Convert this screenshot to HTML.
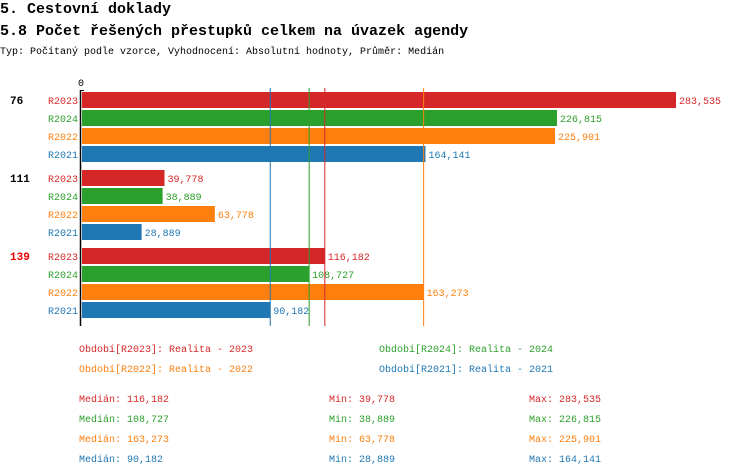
<!DOCTYPE html>
<html><head><meta charset="utf-8"><style>
body{margin:0;background:#fff;width:750px;height:476px;overflow:hidden}
svg{display:block;font-family:"Liberation Mono",monospace}
</style></head><body>
<svg id="c" width="750" height="476">
<text x="0" y="13" font-size="15" font-weight="bold">5. Cestovní doklady</text>
<text x="0" y="35" font-size="15" font-weight="bold">5.8 Počet řešených přestupků celkem na úvazek agendy</text>
<text x="0" y="54" font-size="10">Typ: Počítaný podle vzorce, Vyhodnocení: Absolutní hodnoty, Průměr: Medián</text>
<text x="81" y="86" font-size="10" text-anchor="middle">0</text>
<g id="bars"></g>
<g id="legend"></g>
</svg>
<script>
const groups=["76","111","139"];
const groupColors=["#000","#000","#e00"];
const series=["R2023","R2024","R2022","R2021"];
const seriesColors=["#d62728","#2ca02c","#ff7f0e","#1f77b4"];
const values=[[283535,226815,225901,164141],[39778,38889,63778,28889],[116182,108727,163273,90182]];
const medians=[116182,108727,163273,90182];
const mins=[39778,38889,63778,28889];
const maxs=[283535,226815,225901,164141];
const legendLabels=["Období[R2023]: Realita - 2023","Období[R2024]: Realita - 2024","Období[R2022]: Realita - 2022","Období[R2021]: Realita - 2021"];
const NS="http://www.w3.org/2000/svg";
const svg=document.getElementById('c'),gb=document.getElementById('bars'),gl=document.getElementById('legend');
const x0=81,maxV=283535,maxW=595;
const xs=v=>x0+v/maxV*maxW;
const fmt=v=>v.toLocaleString('en-US');
function mk(tag,attrs,parent,txt){const e=document.createElementNS(NS,tag);for(const k in attrs)e.setAttribute(k,attrs[k]);if(txt!==undefined)e.textContent=txt;parent.appendChild(e);return e;}
groups.forEach((g,gi)=>{
  const gy=92+gi*78;
  const t=mk('text',{x:10,y:gy+12,'font-size':11,'font-weight':'bold',fill:groupColors[gi]},gb,g);
  
  
  series.forEach((s,si)=>{
    const y=gy+si*18,v=values[gi][si],c=seriesColors[si];
    const l=mk('text',{x:78,y:y+12,'font-size':10,'text-anchor':'end',fill:c},gb,s);
    
    
    const r=mk('rect',{x:x0+1,y:y,width:Math.max(0,xs(v)-x0-1),height:16,fill:c},gb);
    
    
    const vt=mk('text',{x:xs(v)+3,y:y+12,'font-size':10,fill:c},gb,fmt(v));
    
    
  });
});
medians.forEach((m,i)=>{
  const ln=mk('line',{x1:xs(m),x2:xs(m),y1:88,y2:326,stroke:seriesColors[i],'stroke-width':1},gb);
  
  
});
const ax=mk('line',{x1:80.5,x2:80.5,y1:90,y2:326,stroke:'#000','stroke-width':1.5},gb);


const ax2=mk('line',{x1:80,x2:84,y1:90.5,y2:90.5,stroke:'#000','stroke-width':1},gb);


legendLabels.forEach((t,i)=>{
  const e=mk('text',{x:i%2?379:79,y:352+Math.floor(i/2)*20,'font-size':10,fill:seriesColors[i]},gl,t);
  
  
});
series.forEach((s,i)=>{
  const y=402+i*20,c=seriesColors[i];
  const a=mk('text',{x:79,y:y,'font-size':10,fill:c},gl,'Medián: '+fmt(medians[i]));
  
  
  const b=mk('text',{x:329,y:y,'font-size':10,fill:c},gl,'Min: '+fmt(mins[i]));
  
  
  const d=mk('text',{x:529,y:y,'font-size':10,fill:c},gl,'Max: '+fmt(maxs[i]));
  
  
});
</script>
</body></html>
